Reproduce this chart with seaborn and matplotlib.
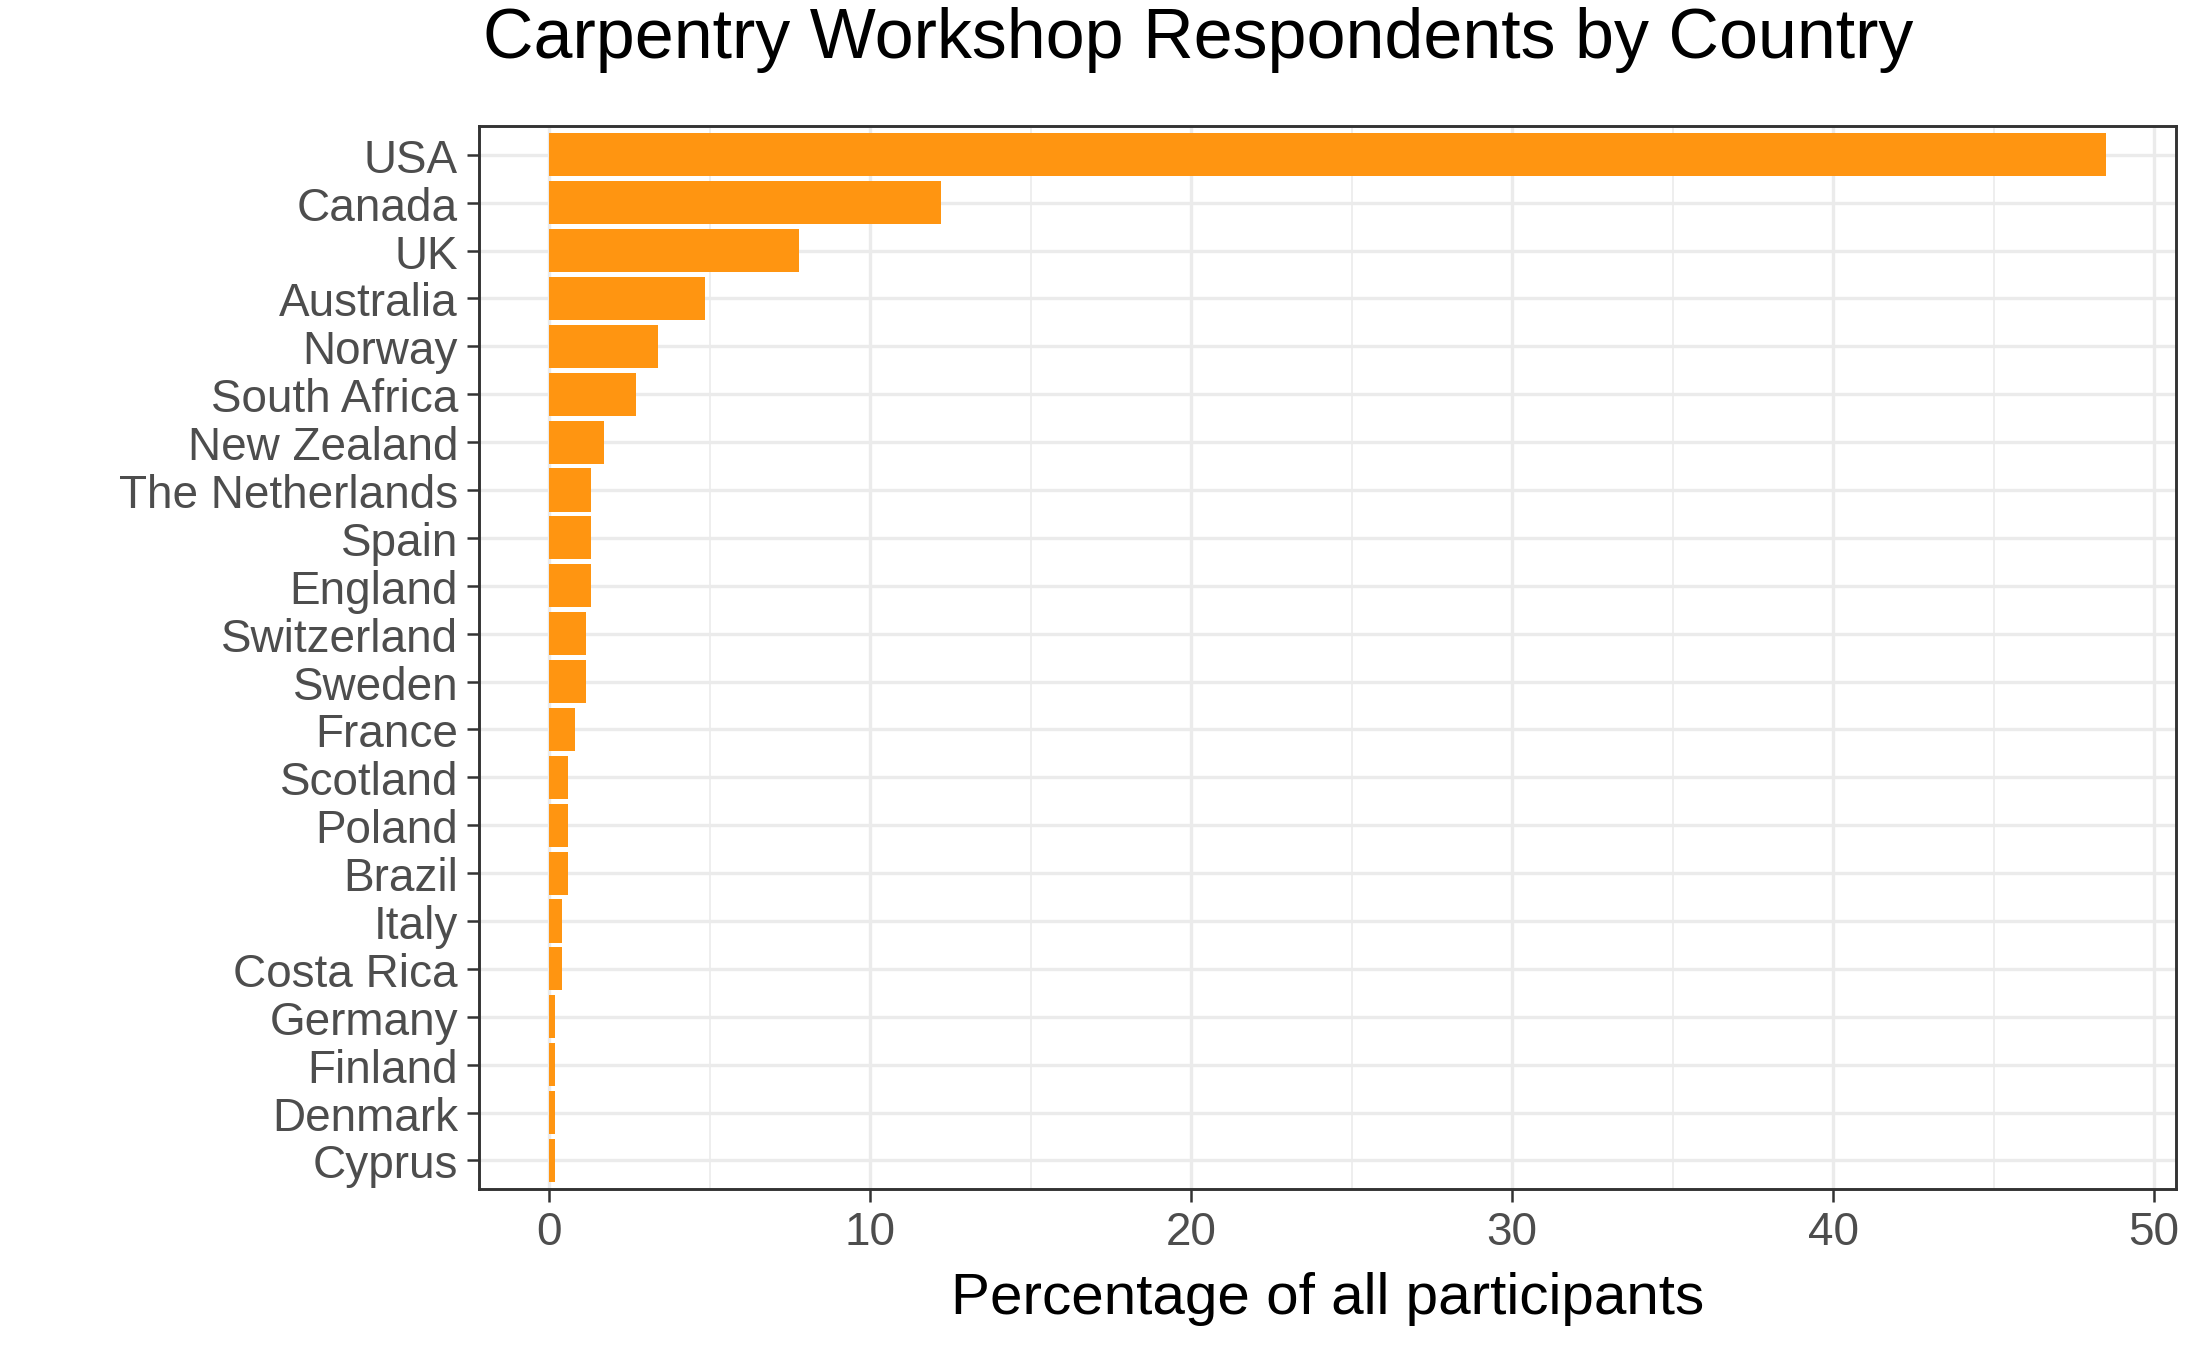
import matplotlib
matplotlib.use("Agg")
import matplotlib.pyplot as plt
import seaborn as sns
import pandas as pd
from matplotlib.ticker import MultipleLocator

countries = ["USA", "Canada", "UK", "Australia", "Norway", "South Africa", "New Zealand",
             "The Netherlands", "Spain", "England", "Switzerland", "Sweden", "France",
             "Scotland", "Poland", "Brazil", "Italy", "Costa Rica", "Germany", "Finland",
             "Denmark", "Cyprus"]
percent = [48.5, 12.2, 7.8, 4.85, 3.4, 2.7, 1.7, 1.3, 1.3, 1.3, 1.15, 1.15, 0.8,
           0.6, 0.6, 0.6, 0.4, 0.4, 0.2, 0.2, 0.2, 0.2]

df = pd.DataFrame({"country": countries, "percent": percent})

sns.set_theme(style="white")
plt.rcParams["font.family"] = ["Liberation Sans", "DejaVu Sans"]

fig = plt.figure(figsize=(7.29, 4.5033), dpi=300)
ax = fig.add_axes([0.219, 0.119, 0.776, 0.787])
sns.barplot(data=df, x="percent", y="country", orient="h", color="#FF9511",
            saturation=1, width=0.9, edgecolor="none", ax=ax, zorder=3)

lo, hi = 0, max(percent)
pad = (hi - lo) * 0.045
ax.set_xlim(lo - pad, hi + pad)
ax.set_ylim(len(countries) - 0.4, -0.6)
ax.xaxis.set_major_locator(MultipleLocator(10))
ax.xaxis.set_minor_locator(MultipleLocator(5))
ax.grid(which="major", color="#EBEBEB", linewidth=0.8, zorder=0)
ax.grid(which="minor", axis="x", color="#EBEBEB", linewidth=0.4, zorder=0)
ax.set_axisbelow(True)
for s in ax.spines.values():
    s.set_color("#333333")
    s.set_linewidth(0.7)
ax.tick_params(axis="both", which="major", length=3, width=0.6, color="#333333",
               labelsize=11, labelcolor="#4D4D4D", pad=2, bottom=True, left=True)
ax.tick_params(axis="x", which="minor", length=0)
ax.set_ylabel("")
ax.set_xlabel("Percentage of all participants", fontsize=14, color="black", labelpad=4)
fig.suptitle("Carpentry Workshop Respondents by Country", fontsize=16.8, color="black",
             x=0.548, y=0.995)
fig.savefig("out.png", dpi=300)
